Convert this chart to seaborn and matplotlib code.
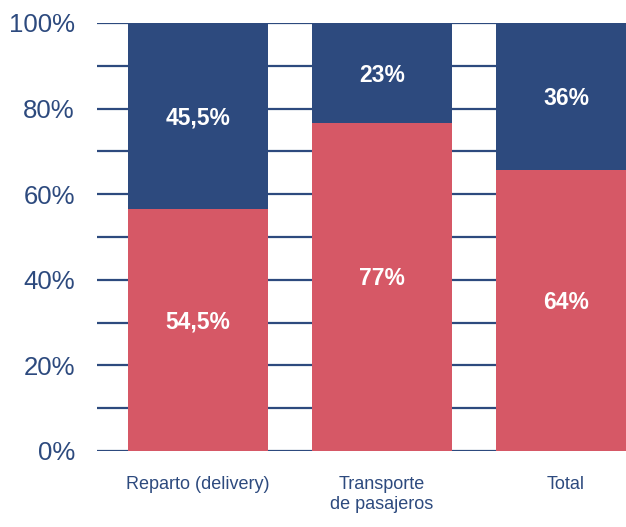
import matplotlib
matplotlib.use('Agg')
import matplotlib.pyplot as plt
import seaborn as sns
import pandas as pd

# ------------- data -------------
categories = ['Reparto (delivery)', 'Transporte\nde pasajeros', 'Total']
red_vals = [56.5, 76.6, 65.6]      # heights as drawn in the chart
red_labels = ['54,5%', '77%', '64%']
blue_labels = ['45,5%', '23%', '36%']
y_ticks = [0, 20, 40, 60, 80, 100]
y_tick_labels = ['0%', '20%', '40%', '60%', '80%', '100%']

RED = '#d65866'
BLUE = '#2d4a7e'

sns.set_style('white')
plt.rcParams['font.family'] = ['Liberation Sans Narrow', 'Liberation Sans', 'DejaVu Sans']

df = pd.DataFrame({'cat': categories, 'red': red_vals, 'top': [100] * len(categories)})

fig = plt.figure(figsize=(6.26, 5.27), dpi=100)
ax = fig.add_axes([97 / 626, 76 / 527, 1 - 97 / 626, 428 / 527])

# stacked 100%: full height in blue, red drawn over it from zero
sns.barplot(data=df, x='cat', y='top', color=BLUE, width=0.76, saturation=1,
            linewidth=0, ax=ax, zorder=3)
sns.barplot(data=df, x='cat', y='red', color=RED, width=0.76, saturation=1,
            linewidth=0, ax=ax, zorder=3)

# gridlines every 10%
for v in range(0, 101, 10):
    ax.axhline(v, color=BLUE, lw=1.6, zorder=1)

for i in range(len(categories)):
    ax.text(i, red_vals[i] / 2 + 2, red_labels[i], ha='center', va='center',
            color='white', fontsize=16.5, fontweight='bold', zorder=5)
    ax.text(i, red_vals[i] + (100 - red_vals[i]) / 2 - 0.5, blue_labels[i], ha='center',
            va='center', color='white', fontsize=16.5, fontweight='bold', zorder=5)

ax.set_xlim(-0.549, 2.326)
ax.set_ylim(0, 100)
ax.set_yticks(y_ticks)
ax.set_yticklabels(y_tick_labels, fontsize=18.5, color=BLUE)
ax.tick_params(axis='y', length=0, pad=16)
ax.tick_params(axis='x', length=0, pad=18, labelsize=13, labelcolor=BLUE)
ax.set_xlabel('')
ax.set_ylabel('')
for s in ax.spines.values():
    s.set_visible(False)

fig.savefig('out.png', dpi=100)
